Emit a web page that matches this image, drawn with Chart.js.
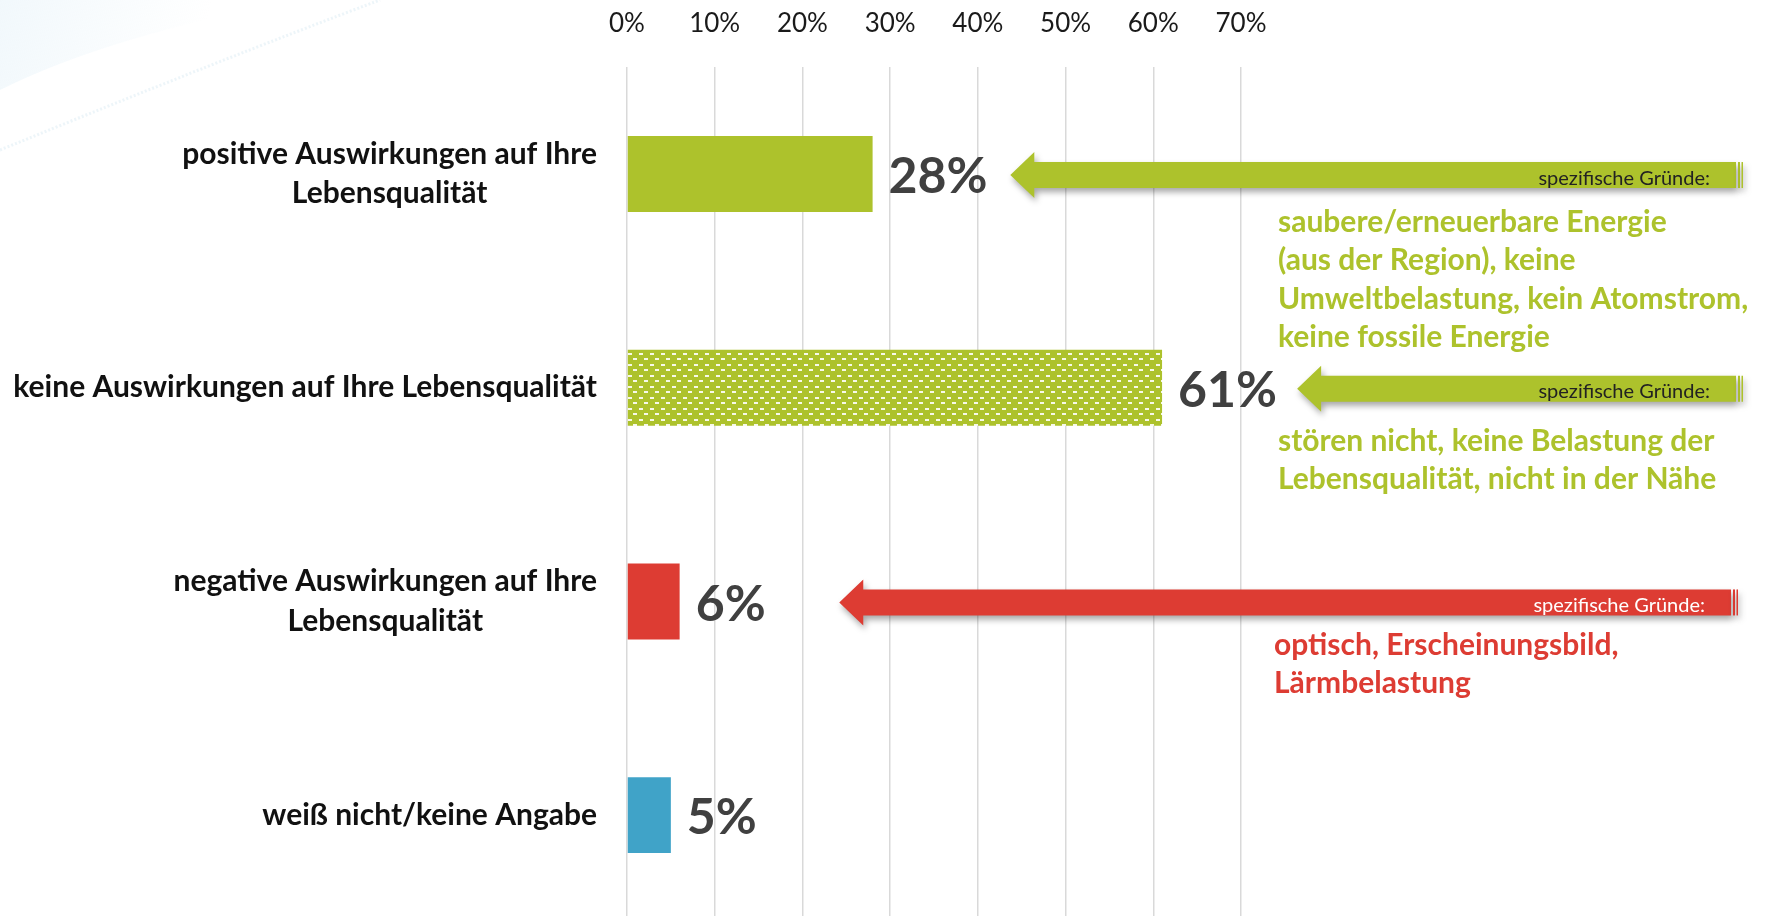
<!DOCTYPE html>
<html>
<head>
<meta charset="utf-8">
<script src="https://cdn.jsdelivr.net/npm/chart.js@4.4.1/dist/chart.umd.min.js"></script>
<style>
    html, body { margin: 0; padding: 0; overflow: hidden; background: #fff; }
    #wrap { width: 1767px; height: 924px; }
</style>
</head>
<body>
<div id="wrap"><canvas id="myChart"></canvas></div>
<script>
// chart data
const categories = [
    ['positive Auswirkungen auf Ihre', 'Lebensqualität'],
    ['keine Auswirkungen auf Ihre Lebensqualität'],
    ['negative Auswirkungen auf Ihre', 'Lebensqualität'],
    ['weiß nicht/keine Angabe']
];
const values = [28, 61, 6, 5];
const tickValues = [0, 10, 20, 30, 40, 50, 60, 70];

const reasonsHeader = 'spezifische Gründe:';
const reasonsPositive = ['saubere/erneuerbare Energie', '(aus der Region), keine', 'Umweltbelastung, kein Atomstrom,', 'keine fossile Energie'];
const reasonsNone = ['stören nicht, keine Belastung der', 'Lebensqualität, nicht in der Nähe'];
const reasonsNegative = ['optisch, Erscheinungsbild,', 'Lärmbelastung'];

const GREEN = '#adc22c';
const RED = '#dd3c33';
const BLUE = '#40a3c8';

// green with little white dashes for the "keine Auswirkungen" bar
function dashPattern(color) {
    const c = document.createElement('canvas');
    c.width = 11; c.height = 11;
    const g = c.getContext('2d');
    g.fillStyle = color;
    g.fillRect(0, 0, 11, 11);
    g.fillStyle = '#f7f9ea';
    g.fillRect(1, 1, 4, 2);
    g.fillRect(6, 6, 4, 2);
    return g.createPattern(c, 'repeat');
}

// faint swoosh in the top left corner
const backdrop = {
    id: 'backdrop',
    beforeDraw(chart) {
        const ctx = chart.ctx;
        ctx.save();
        const grad = ctx.createLinearGradient(0, 0, 200, 50);
        grad.addColorStop(0, 'rgba(225,240,248,0.45)');
        grad.addColorStop(1, 'rgba(225,240,248,0)');
        ctx.fillStyle = grad;
        ctx.beginPath();
        ctx.moveTo(0, 0);
        ctx.lineTo(300, 0);
        ctx.quadraticCurveTo(110, 35, 0, 90);
        ctx.closePath();
        ctx.fill();
        ctx.strokeStyle = 'rgba(215,232,242,0.45)';
        ctx.lineWidth = 3;
        ctx.setLineDash([2, 2]);
        ctx.beginPath();
        ctx.moveTo(0, 150);
        ctx.quadraticCurveTo(220, 60, 380, 0);
        ctx.stroke();
        ctx.restore();
    }
};

// category labels: block right aligned, lines centred inside the block
const catLabels = {
    id: 'catLabels',
    afterDraw(chart, args, opts) {
        const ctx = chart.ctx;
        const y = chart.scales.y;
        ctx.save();
        ctx.font = opts.font;
        ctx.fillStyle = opts.color;
        ctx.textAlign = 'center';
        ctx.textBaseline = 'middle';
        categories.forEach((lines, i) => {
            const w = Math.max(...lines.map(l => ctx.measureText(l).width));
            const cx = opts.right - w / 2;
            const cy = y.getPixelForValue(i);
            lines.forEach((l, k) => {
                ctx.fillText(l, cx, cy + (k - (lines.length - 1) / 2) * opts.lineHeight);
            });
        });
        ctx.restore();
    }
};

// value labels next to each bar
const valueLabels = {
    id: 'valueLabels',
    afterDatasetsDraw(chart) {
        const ctx = chart.ctx;
        const meta = chart.getDatasetMeta(0);
        ctx.save();
        ctx.font = 'bold 50px Lato';
        ctx.fillStyle = '#404040';
        ctx.textBaseline = 'middle';
        meta.data.forEach((bar, i) => {
            ctx.fillText(values[i] + '%', bar.x + 16, bar.y + 3);
        });
        ctx.restore();
    }
};

// arrows with the reasons
const reasonArrows = {
    id: 'reasonArrows',
    afterDraw(chart, args, opts) {
        const ctx = chart.ctx;
        const x = chart.scales.x;
        const meta = chart.getDatasetMeta(0);
        opts.notes.forEach(n => {
            const bar = meta.data[n.index];
            const cy = bar.y + 1;
            const tip = x.getPixelForValue(n.tip);
            const base = tip + 24;
            const end = n.end;
            ctx.save();
            ctx.shadowColor = 'rgba(0,0,0,0.35)';
            ctx.shadowBlur = 6;
            ctx.shadowOffsetX = 2;
            ctx.shadowOffsetY = 4;
            ctx.fillStyle = n.colour;
            ctx.beginPath();
            ctx.moveTo(tip, cy);
            ctx.lineTo(base, cy - 23);
            ctx.lineTo(base, cy - 13);
            ctx.lineTo(end, cy - 13);
            ctx.lineTo(end, cy + 13);
            ctx.lineTo(base, cy + 13);
            ctx.lineTo(base, cy + 23);
            ctx.closePath();
            ctx.fill();
            ctx.fillRect(end + 2, cy - 13, 2, 26);
            ctx.fillRect(end + 5.5, cy - 13, 1.5, 26);
            ctx.restore();

            ctx.save();
            ctx.font = '20px Lato';
            ctx.fillStyle = n.headColour;
            ctx.textAlign = 'right';
            ctx.textBaseline = 'middle';
            ctx.fillText(reasonsHeader, end - 26, cy + 3);
            ctx.font = 'bold 30px Lato';
            ctx.fillStyle = n.textColour;
            ctx.textAlign = 'left';
            ctx.textBaseline = 'middle';
            n.lines.forEach((l, k) => ctx.fillText(l, n.textLeft, n.textTop + k * 38.5));
            ctx.restore();
        });
    }
};

const ctx = document.getElementById('myChart').getContext('2d');
new Chart(ctx, {
    type: 'bar',
    data: {
        labels: categories,
        datasets: [{
            data: values,
            backgroundColor: [GREEN, dashPattern(GREEN), RED, BLUE],
            borderWidth: 0,
            barPercentage: 0.355,
            categoryPercentage: 1
        }]
    },
    options: {
        indexAxis: 'y',
        responsive: true,
        maintainAspectRatio: false,
        animation: false,
        layout: { padding: { left: 627, right: 526, top: -20, bottom: 2 } },
        scales: {
            x: {
                position: 'top',
                min: 0,
                max: 70,
                afterBuildTicks: axis => { axis.ticks = tickValues.map(v => ({ value: v })); },
                ticks: {
                    callback: v => v + '%',
                    font: { family: 'Lato', size: 26 },
                    color: '#1a1a1a',
                    padding: 28,
                    maxRotation: 0
                },
                grid: { color: '#d9d9d9', lineWidth: 1.5, drawTicks: false },
                border: { display: false }
            },
            y: {
                display: false
            }
        },
        plugins: {
            legend: { display: false },
            tooltip: { enabled: false },
            catLabels: { font: 'bold 30px Lato', color: '#111', right: 597, lineHeight: 39.5 },
            reasonArrows: {
                notes: [
                    { index: 0, tip: 43.7, end: 1736, colour: GREEN, headColour: '#222', textColour: GREEN, textLeft: 1278, textTop: 222, lines: reasonsPositive },
                    { index: 1, tip: 76.4, end: 1736, colour: GREEN, headColour: '#222', textColour: GREEN, textLeft: 1278, textTop: 441, lines: reasonsNone },
                    { index: 2, tip: 24.2, end: 1731, colour: RED, headColour: '#fff', textColour: RED, textLeft: 1274, textTop: 645, lines: reasonsNegative }
                ]
            }
        }
    },
    plugins: [backdrop, catLabels, valueLabels, reasonArrows]
});
</script>
</body>
</html>
